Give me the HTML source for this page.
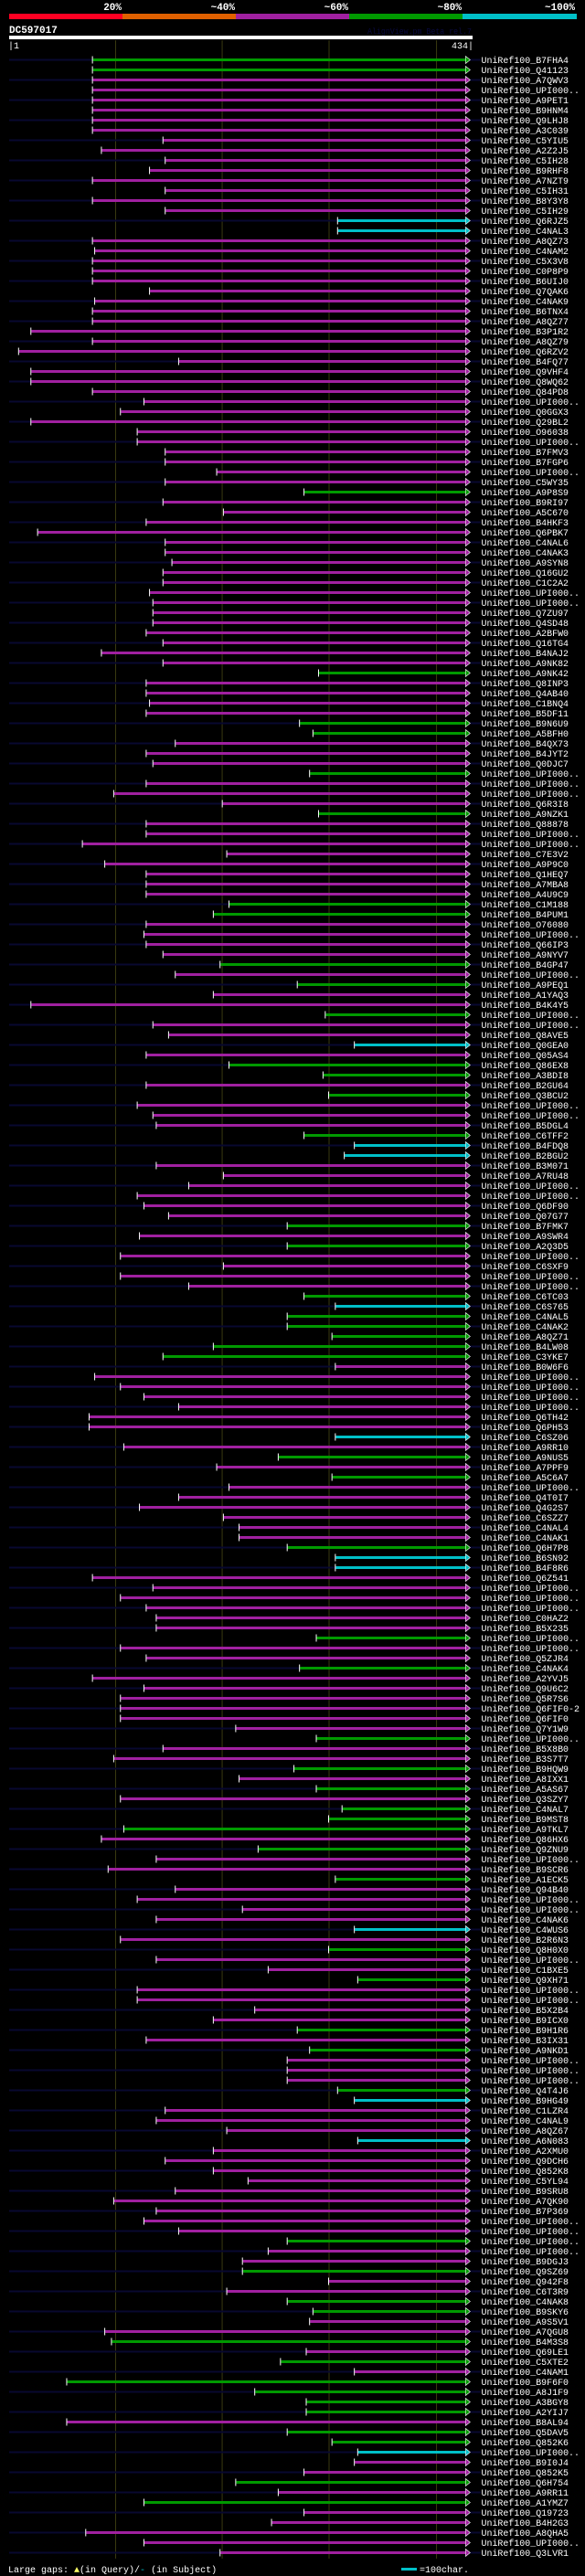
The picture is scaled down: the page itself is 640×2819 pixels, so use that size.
<!DOCTYPE html>
<html><head><meta charset="utf-8"><style>
html,body{margin:0;padding:0;background:#000;}
body{width:640px;height:2819px;overflow:hidden;}
svg{display:block;}
text{font-family:"Liberation Mono","DejaVu Sans Mono",monospace;}
</style></head><body>
<svg id="chart" width="640" height="2819" xmlns="http://www.w3.org/2000/svg">
<g>
<rect x="10" y="15" width="124" height="6" fill="#ff0022"/>
<rect x="134" y="15" width="124" height="6" fill="#e06000"/>
<rect x="258" y="15" width="124" height="6" fill="#a020a0"/>
<rect x="382" y="15" width="124" height="6" fill="#009a00"/>
<rect x="506" y="15" width="125" height="6" fill="#00c0c8"/>
<g fill="#fff" font-weight="bold" font-size="11" text-anchor="end">
<text x="133" y="11">20%</text>
<text x="257" y="11">~40%</text>
<text x="381" y="11">~60%</text>
<text x="505" y="11">~80%</text>
<text x="629" y="11">~100%</text>
</g></g>
<text x="10" y="36" fill="#fff" font-weight="bold" font-size="11">DC597017</text>
<text x="402" y="37" fill="#0a0a40" font-size="9" textLength="114" lengthAdjust="spacingAndGlyphs">AlignView.pm Beta rel.7</text>
<rect x="10" y="39" width="507" height="4" fill="#fff"/>
<text x="9" y="53" fill="#fff" font-size="10">|1</text>
<text x="518" y="53" fill="#fff" font-size="10" text-anchor="end">434|</text>
<g id="grid"></g>
<g id="rows"></g>
<g>
<text x="9" y="2815" fill="#fff" font-size="10">Large gaps: <tspan fill="#ffff66">▲</tspan>(in Query)/<tspan fill="#00c0c8">-</tspan> (in Subject)</text>
<rect x="439" y="2810" width="17" height="3" fill="#00c0c8"/>
<text x="459" y="2815" fill="#fff" font-size="10">=100char.</text>
</g>
</svg>
<script>
const names=["B7FHA4","Q41123","A7QWV3","UPI000..","A9PET1","B9HNM4","Q9LHJ8","A3C039","C5YIU5","A2Z2J5","C5IH28","B9RHF8","A7NZT9","C5IH31","B8Y3Y8","C5IH29","Q6RJZ5","C4NAL3","A8QZ73","C4NAM2","C5X3V8","C0P8P9","B6UIJ0","Q7QAK6","C4NAK9",
"B6TNX4","A8QZ77","B3P1R2","A8QZ79","Q6RZV2","B4FQ77","Q9VHF4","Q8WQ62","Q84PD8","UPI000..","Q0GGX3","Q29BL2","O96038","UPI000..","B7FMV3","B7FGP6","UPI000..","C5WY35","A9P8S9","B9RI97","A5C670","B4HKF3","Q6PBK7","C4NAL6","C4NAK3",
"A9SYN8","Q16GU2","C1C2A2","UPI000..","UPI000..","Q7ZU97","Q4SD48","A2BFW0","Q16TG4","B4NAJ2","A9NK82","A9NK42","Q8INP3","Q4AB40","C1BNQ4","B5DF11","B9N6U9","A5BFH0","B4QX73","B4JYT2","Q0DJC7","UPI000..","UPI000..","UPI000..","Q6R3I8",
"A9NZK1","Q88878","UPI000..","UPI000..","C7E3V2","A9P9C0","Q1HEQ7","A7MBA8","A4U9C9","C1M188","B4PUM1","O76080","UPI000..","Q66IP3","A9NYV7","B4GP47","UPI000..","A9PEQ1","A1YAQ3","B4K4Y5","UPI000..","UPI000..","Q8AVE5","Q0GEA0","Q05AS4",
"Q86EX8","A3BDI8","B2GU64","Q3BCU2","UPI000..","UPI000..","B5DGL4","C6TFF2","B4FDQ8","B2BGU2","B3M071","A7RU48","UPI000..","UPI000..","Q6DF90","Q07G77","B7FMK7","A9SWR4","A2Q3D5","UPI000..","C6SXF9","UPI000..","UPI000..","C6TC03","C6S765",
"C4NAL5","C4NAK2","A8QZ71","B4LW08","C3YKE7","B0W6F6","UPI000..","UPI000..","UPI000..","UPI000..","Q6TH42","Q6PH53","C6SZ06","A9RR10","A9NUS5","A7PPF9","A5C6A7","UPI000..","Q4T0I7","Q4G2S7","C6SZZ7","C4NAL4","C4NAK1","Q6H7P8","B6SN92",
"B4F8R6","Q6Z541","UPI000..","UPI000..","UPI000..","C0HAZ2","B5X235","UPI000..","UPI000..","Q5ZJR4","C4NAK4","A2YVJ5","Q9U6C2","Q5R7S6","Q6FIF0-2","Q6FIF0","Q7Y1W9","UPI000..","B5X8B0","B3S7T7","B9HQW9","A8IXX1","A5AS67","Q3SZY7","C4NAL7",
"B9MST8","A9TKL7","Q86HX6","Q9ZNU9","UPI000..","B9SCR6","A1ECK5","Q94B40","UPI000..","UPI000..","C4NAK6","C4WUS6","B2R6N3","Q8H0X0","UPI000..","C1BXE5","Q9XH71","UPI000..","UPI000..","B5X2B4","B9ICX0","B9H1R6","B3IX31","A9NKD1","UPI000..",
"UPI000..","UPI000..","Q4T4J6","B9HG49","C1LZR4","C4NAL9","A8QZ67","A6N083","A2XMU0","Q9DCH6","Q852K8","C5YL94","B9SRU8","A7QK90","B7P369","UPI000..","UPI000..","UPI000..","UPI000..","B9DGJ3","Q9SZ69","Q942F8","C6T3R9","C4NAK8","B9SKY6",
"A9S5V1","A7QGU8","B4M3S8","Q69LE1","C5XTE2","C4NAM1","B9F6F0","A8J1F9","A3BGY8","A2YIJ7","B8AL94","Q5DAV5","Q852K6","UPI000..","B9I0J4","Q852K5","Q6H754","A9RR11","A1YMZ7","Q19723","B4H2G3","A8QHA5","UPI000..","Q3LVR1"];
const starts=[75,75,75,75,75,75,75,75,138,83,140,126,75,140,75,140,294,294,75,77,75,75,75,126,77,
75,75,20,75,9,152,20,20,75,121,100,20,115,115,140,140,186,140,264,138,192,123,26,140,140,
146,138,138,126,129,129,129,123,138,83,138,277,123,123,126,123,260,272,149,123,129,269,123,94,191,
277,123,123,66,195,86,123,123,123,197,183,123,121,123,138,189,149,258,183,20,283,129,143,309,123,
197,281,123,286,115,129,132,264,309,300,132,192,161,115,121,143,249,117,249,100,192,100,161,264,292,
249,249,289,183,138,292,77,100,121,152,72,72,292,103,241,186,289,197,152,117,192,206,206,249,292,
292,75,129,100,123,132,132,275,100,123,260,75,121,100,100,100,203,275,138,94,255,206,275,100,298,
286,103,83,223,132,89,292,149,115,209,132,309,100,286,132,232,312,115,115,220,183,258,123,269,249,
249,249,294,309,140,132,195,312,183,140,183,214,149,94,132,121,152,249,232,209,209,286,195,249,272,
269,86,92,266,243,309,52,220,266,266,52,249,289,312,309,264,203,241,121,264,235,69,121,189];
const colors="ggmmmmmmmmmmmmmmccmmmmmmm"+"mmmmmmmmmmmmmmmmmmgmmmmmm"+"mmmmmmmmmmmgmmmmggmmmgmmm"+"gmmmmmmmmggmmmmgmgmmgmmcm"+"ggmgmmmgccmmmmmmgmgmmmmgc"+"gggggmmmmmmmcmgmgmmmmmmgc"+"cmmmmmmgmmgmmmmmmgmmgmgmg"+"ggmgmmgmmmmcmgmmgmmmmgmgm"+"mmgcmmmcmmmmmmmmmgmmgmmg"+"gmmgmgmggggmggcmmgmgmm"+"m";
</script>
<script>
const NS="http://www.w3.org/2000/svg";
const K=1.2245;
function xScale(v){return K*(v+8);}
function yScale(i){return 65.5+i*11;}
const END=408;
const palette={g:"#009a00",m:"#a020a0",c:"#00c0c8"};
const grid=document.getElementById('grid');
[95.3,190.5,286,382].forEach(v=>{
  const l=document.createElementNS(NS,'line');
  l.setAttribute('x1',xScale(v));l.setAttribute('x2',xScale(v));
  l.setAttribute('y1',44);l.setAttribute('y2',2800);
  l.setAttribute('stroke','#3a3a10');l.setAttribute('stroke-width','1');
  
  
  grid.appendChild(l);
});
const rows=document.getElementById('rows');
for(let i=0;i<names.length;i++){
  const y=yScale(i);
  const g=document.createElementNS(NS,'g');
  
  
  if(i%2===0){
    const bg=document.createElementNS(NS,'rect');
    bg.setAttribute('x',10);bg.setAttribute('y',y-1);
    bg.setAttribute('width',516);bg.setAttribute('height',2);
    bg.setAttribute('fill','#080830');
    
    
    g.appendChild(bg);
  }
  const c=palette[colors[i]]||palette.m;
  const x=xScale(starts[i]), xe=xScale(END);
  const bar=document.createElementNS(NS,'rect');
  bar.setAttribute('x',x);bar.setAttribute('y',y-1.5);
  bar.setAttribute('width',Math.max(1,xe-x));bar.setAttribute('height',3);
  bar.setAttribute('fill',c);
  
  
  g.appendChild(bar);
  const tick=document.createElementNS(NS,'rect');
  tick.setAttribute('x',x-1);tick.setAttribute('y',y-4);
  tick.setAttribute('width',1);tick.setAttribute('height',8);
  tick.setAttribute('fill','#fff');
  
  
  g.appendChild(tick);
  const arr=document.createElementNS(NS,'path');
  arr.setAttribute('d',`M${xe} ${y-4} L${xe+5} ${y} L${xe} ${y+4} Z`);
  arr.setAttribute('fill',c);arr.setAttribute('stroke','#fff');arr.setAttribute('stroke-width','0.6');
  
  
  g.appendChild(arr);
  const t=document.createElementNS(NS,'text');
  const label="UniRef100_"+names[i];
  t.setAttribute('x',526.5);t.setAttribute('y',y+3.5);
  t.setAttribute('fill','#fff');t.setAttribute('font-size','10');
  t.setAttribute('textLength',(label.length*5.97).toFixed(1));
  t.setAttribute('lengthAdjust','spacingAndGlyphs');
  
  
  t.textContent=label;
  g.appendChild(t);
  rows.appendChild(g);
}
</script>
</body></html>
